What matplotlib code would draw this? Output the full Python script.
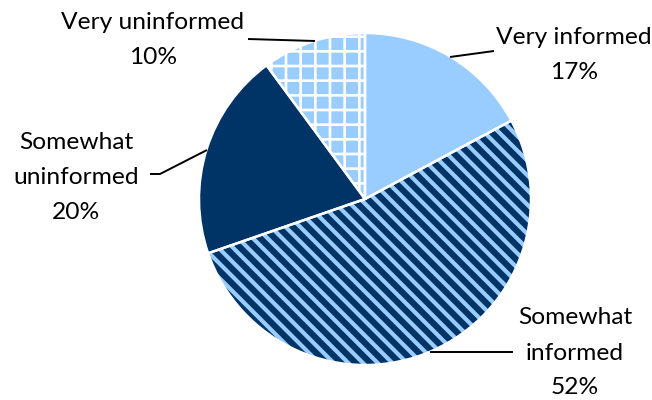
import matplotlib
matplotlib.use('Agg')
import matplotlib.pyplot as plt

labels = ['Very informed', 'Somewhat\ninformed', 'Somewhat\nuninformed', 'Very uninformed']
values = [17, 52, 20, 10]
pct_text = ['17%', '52%', '20%', '10%']
face_colors = ['#99CCFF', '#003366', '#003366', '#99CCFF']
hatch_colors = ['#99CCFF', '#99CCFF', '#003366', '#FFFFFF']
hatches = ['', '\\\\', '', '+']
hatch_widths = [1.0, 3.4, 1.0, 2.2]

# label placement (pixels from top-left) and leader lines
label_pos = [(574, 37), (575, 318), (76, 142), (153, 22)]
leaders = [
    [(450, 57), (494, 51)],
    [(430, 352), (513, 352)],
    [(150, 174), (160, 174), (207, 150)],
    [(248, 39), (315, 41)],
]

W, H = 652, 400
DPI = 88
plt.rcParams['font.family'] = ['Lato', 'DejaVu Sans']

fig = plt.figure(figsize=(W / DPI, H / DPI), dpi=DPI)
ax = fig.add_axes([0, 0, 1, 1])

cx, cy, r = 365, H - 199, 166

wedges, _ = ax.pie(values, startangle=90, counterclock=False,
                   center=(cx, cy), radius=r,
                   wedgeprops=dict(linewidth=0))
for w, fc, hc, ht, hw in zip(wedges, face_colors, hatch_colors, hatches, hatch_widths):
    w.set_facecolor(fc)
    w.set_edgecolor(hc)
    w.set_linewidth(0)
    if ht:
        w.set_hatch(ht)
        if hasattr(w, 'set_hatch_linewidth'):
            w.set_hatch_linewidth(hw)

# white borders on top
ax.pie(values, startangle=90, counterclock=False, center=(cx, cy), radius=r,
       colors=['none'] * len(values),
       wedgeprops=dict(edgecolor='white', linewidth=2.0))

for lab, p, (x, y) in zip(labels, pct_text, label_pos):
    lines = lab.split('\n') + [p]
    for k, t in enumerate(lines):
        ax.text(x, H - (y + k * 35), t, ha='center', va='center',
                fontsize=20, color='black')

for seg in leaders:
    xs = [s[0] for s in seg]
    ys = [H - s[1] for s in seg]
    ax.plot(xs, ys, color='black', linewidth=1.6, solid_capstyle='butt')

ax.set_xlim(0, W)
ax.set_ylim(0, H)
ax.set_aspect('equal')
ax.axis('off')

fig.savefig('out.png', dpi=DPI)
